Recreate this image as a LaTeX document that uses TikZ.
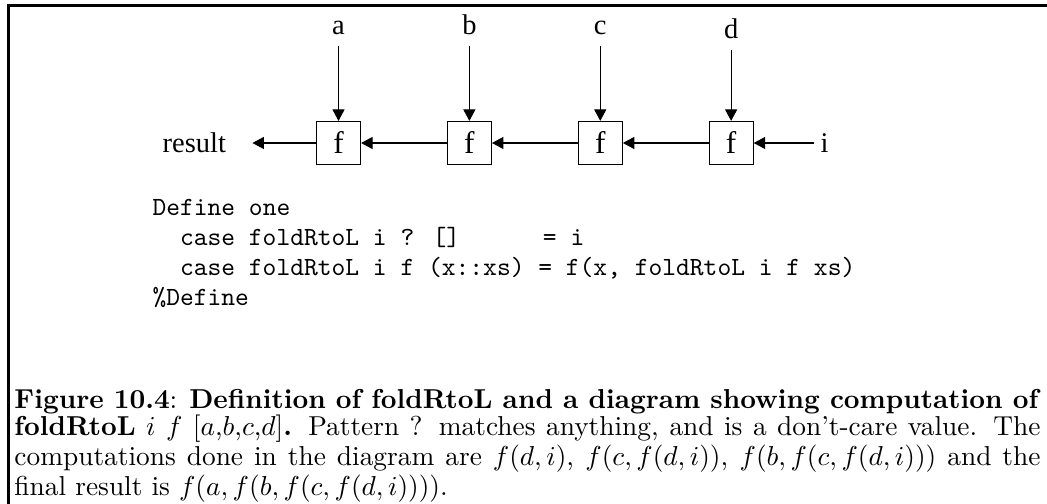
\documentclass[tikz,border=0pt]{standalone}
\usepackage{fontspec}
\newfontfamily\figfont{Liberation Serif}
\usetikzlibrary{arrows.meta, positioning}

\begin{document}
\begin{tikzpicture}[
  x=0.4pt, y=-0.4pt,
  fbox/.style={draw, line width=0.45pt, minimum width=17.6pt, minimum height=17.2pt, inner sep=0pt, font=\figfont\fontsize{12.5}{14}\selectfont},
  inlbl/.style={inner xsep=0pt, inner ysep=4.4pt, font=\figfont\fontsize{11.4}{13}\selectfont},
  sidelbl/.style={inner ysep=0pt, font=\figfont\fontsize{11.4}{13}\selectfont},
  arrow/.style={-{Triangle[length=4.6pt,width=4.8pt]}, line width=0.45pt},
  code/.style={inner sep=0pt, font=\ttfamily\fontsize{10.5}{12}\selectfont},
  caption/.style={inner sep=0pt, text width=410.4pt, align=justify, font=\fontsize{10.95}{10.9}\selectfont}
]
  \useasboundingbox (0,0) rectangle (1047,504);
  \draw[line width=0.85pt] (1047,5.5) -- (8.5,5.5) -- (8.5,504);

  \node[fbox] (fa) at (338.5,143) {f};
  \node[fbox, right=34.3pt of fa] (fb) {f};
  \node[fbox, right=34.3pt of fb] (fc) {f};
  \node[fbox, right=34.3pt of fc] (fd) {f};

  \node[inlbl, above=29.8pt of fa] (a) {a};
  \node[inlbl, above=29.8pt of fb] (b) {b};
  \node[inlbl, above=29.8pt of fc] (c) {c};
  \node[inlbl, above=28.4pt of fd] (d) {d};

  \node[sidelbl, inner xsep=2.4pt, right=24.2pt of fd] (i) {i};
  \node[sidelbl, inner xsep=10.4pt, left=25.4pt of fa] (result) {result};

  \draw[arrow] (a) -- (fa);
  \draw[arrow] (b) -- (fb);
  \draw[arrow] (c) -- (fc);
  \draw[arrow] (d) -- (fd);
  \draw[arrow] (i) -- (fd);
  \draw[arrow] (fd) -- (fc);
  \draw[arrow] (fc) -- (fb);
  \draw[arrow] (fb) -- (fa);
  \draw[arrow] (fa) -- (result);

  \node[code, anchor=base west] (def) at (152,216) {\begin{tabular}[t]{@{}l@{}}
    Define one\\
    ~~case foldRtoL i ? []~~~~~~= i\\
    ~~case foldRtoL i f (x::xs) = f(x, foldRtoL i f xs)\\
    \%Define
  \end{tabular}};

  \node[caption, anchor=north west] (cap) at (14,389) {\sloppy
    \textbf{Figure 10.4}: \textbf{Definition of foldRtoL and a diagram showing computation of}\linebreak
    \textbf{foldRtoL} $i$ $f$ $[a$,$b$,$c$,$d]$\textbf{.} Pattern ? matches anything, and is a don't-care value. The\linebreak
    computations done in the diagram are $f(d,i)$, $f(c,f(d,i))$, $f(b,f(c,f(d,i)))$ and the\linebreak
    final result is $f(a,f(b,f(c,f(d,i))))$.};
\end{tikzpicture}
\end{document}
